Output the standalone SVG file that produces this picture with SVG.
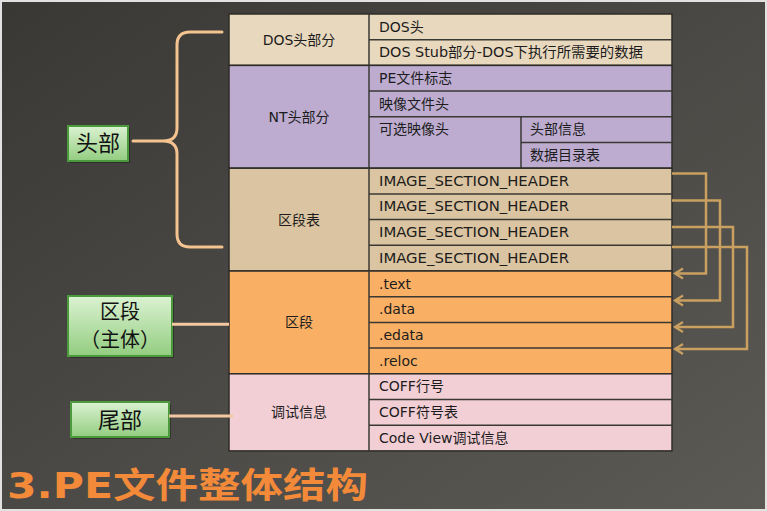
<svg xmlns="http://www.w3.org/2000/svg" width="767" height="511" viewBox="0 0 767 511">
<defs>
<linearGradient id="bg" x1="0" y1="0" x2="1" y2="1">
<stop offset="0" stop-color="#393835"/>
<stop offset="1" stop-color="#5b5a55"/>
</linearGradient>
<linearGradient id="green" x1="0" y1="0" x2="0" y2="1">
<stop offset="0" stop-color="#dbf2d2"/>
<stop offset="1" stop-color="#93cd80"/>
</linearGradient>
<marker id="arr" markerUnits="userSpaceOnUse" markerWidth="14" markerHeight="14" viewBox="-10 -7 14 14" refX="0" refY="0" orient="auto">
<path d="M-8,-5 L0,0 L-8,5" fill="none" stroke="#c9a060" stroke-width="2.2"/>
</marker>
<style>
.t{font-family:'DejaVu Sans','Noto Sans CJK SC',sans-serif;font-size:14px;fill:#1c1c1c}
.c{text-anchor:middle}
.sep{stroke:#3a3833;stroke-width:1.5;fill:none}
.blk{stroke:#2e2c29;stroke-width:1.5}
.gb{fill:url(#green);stroke:#4b9a3b;stroke-width:2}
.sh{fill:#000;opacity:0.3}
.gt{font-family:'Noto Sans CJK SC',sans-serif;font-size:22px;fill:#111;text-anchor:middle}
.gs{font-size:20px}
.brace{fill:none;stroke:#f4c38f;stroke-width:3;stroke-linecap:round}
.link{fill:none;stroke:#f4c8a0;stroke-width:3}
.arrow{fill:none;stroke:#c9a060;stroke-width:2.5;marker-end:url(#arr)}
</style>
</defs>
<rect x="0" y="0" width="767" height="511" fill="url(#bg)"/>
<rect x="1" y="1" width="765" height="509" fill="none" stroke="#e2e2e2" stroke-width="2"/>

<g id="dos-header">
<rect class="blk" x="229" y="14" width="443" height="51.4" fill="#e8d8be"/>
<line class="sep" x1="369" y1="14" x2="369" y2="65.4"/>
<line class="sep" x1="369" y1="39.7" x2="672" y2="39.7"/>
<text class="t c" x="299" y="44.7">DOS头部分</text>
<text class="t" x="379" y="31.5">DOS头</text>
<text class="t" x="379" y="57.2" textLength="264" lengthAdjust="spacingAndGlyphs">DOS Stub部分-DOS下执行所需要的数据</text>
</g>

<g id="nt-header">
<rect class="blk" x="229" y="65.4" width="443" height="102.8" fill="#bdacd0"/>
<line class="sep" x1="369" y1="65.4" x2="369" y2="168.2"/>
<line class="sep" x1="369" y1="91.1" x2="672" y2="91.1"/>
<line class="sep" x1="369" y1="116.8" x2="672" y2="116.8"/>
<line class="sep" x1="521" y1="116.8" x2="521" y2="168.2"/>
<line class="sep" x1="521" y1="142.5" x2="672" y2="142.5"/>
<text class="t c" x="299" y="121.5">NT头部分</text>
<text class="t" x="379" y="82.9">PE文件标志</text>
<text class="t" x="379" y="108.6">映像文件头</text>
<text class="t" x="379" y="134.3">可选映像头</text>
<text class="t" x="530" y="134.3">头部信息</text>
<text class="t" x="530" y="160">数据目录表</text>
</g>

<g id="section-table">
<rect class="blk" x="229" y="168.2" width="443" height="102.8" fill="#dbc4a1"/>
<line class="sep" x1="369" y1="168.2" x2="369" y2="271"/>
<line class="sep" x1="369" y1="193.9" x2="672" y2="193.9"/>
<line class="sep" x1="369" y1="219.6" x2="672" y2="219.6"/>
<line class="sep" x1="369" y1="245.3" x2="672" y2="245.3"/>
<text class="t c" x="299" y="224.6">区段表</text>
<text class="t" x="379" y="185.7" textLength="190" lengthAdjust="spacingAndGlyphs">IMAGE_SECTION_HEADER</text>
<text class="t" x="379" y="211.4" textLength="190" lengthAdjust="spacingAndGlyphs">IMAGE_SECTION_HEADER</text>
<text class="t" x="379" y="237.1" textLength="190" lengthAdjust="spacingAndGlyphs">IMAGE_SECTION_HEADER</text>
<text class="t" x="379" y="262.8" textLength="190" lengthAdjust="spacingAndGlyphs">IMAGE_SECTION_HEADER</text>
</g>

<g id="sections">
<rect class="blk" x="229" y="271" width="443" height="102.8" fill="#f9b065"/>
<line class="sep" x1="369" y1="271" x2="369" y2="373.8"/>
<line class="sep" x1="369" y1="296.7" x2="672" y2="296.7"/>
<line class="sep" x1="369" y1="322.4" x2="672" y2="322.4"/>
<line class="sep" x1="369" y1="348.1" x2="672" y2="348.1"/>
<text class="t c" x="299" y="327.4">区段</text>
<text class="t" x="379" y="288.5">.text</text>
<text class="t" x="379" y="314.2">.data</text>
<text class="t" x="379" y="339.9">.edata</text>
<text class="t" x="379" y="365.6">.reloc</text>
</g>

<g id="debug-info">
<rect class="blk" x="229" y="373.8" width="443" height="77.1" fill="#f2ced5"/>
<line class="sep" x1="369" y1="373.8" x2="369" y2="450.9"/>
<line class="sep" x1="369" y1="399.5" x2="672" y2="399.5"/>
<line class="sep" x1="369" y1="425.2" x2="672" y2="425.2"/>
<text class="t c" x="299" y="417.4">调试信息</text>
<text class="t" x="379" y="391.3">COFF行号</text>
<text class="t" x="379" y="417">COFF符号表</text>
<text class="t" x="379" y="442.7">Code View调试信息</text>
</g>

<g id="label-header">
<rect class="sh" x="70" y="128" width="60" height="35"/>
<rect class="gb" x="68" y="126" width="60" height="35"/>
<text class="gt" x="98" y="151">头部</text>
</g>

<g id="label-body">
<rect class="sh" x="70" y="298" width="104" height="60"/>
<rect class="gb" x="68" y="296" width="104" height="60"/>
<text class="gt gs" x="120" y="318.5">区段</text>
<text class="gt gs" x="120" y="346.5">（主体）</text>
</g>

<g id="label-tail">
<rect class="sh" x="73" y="404" width="98" height="35"/>
<rect class="gb" x="71" y="402" width="98" height="35"/>
<text class="gt" x="120" y="427.5">尾部</text>
</g>

<g id="connectors">
<path class="brace" d="M222,32 L190,32 Q177,32 177,45 L177,128 Q177,141 163,141 L133,141 M163,141 Q177,141 177,154 L177,234 Q177,247 190,247 L222,247"/>
<line class="link" x1="172" y1="324.3" x2="229" y2="324.3"/>
<line class="link" x1="169" y1="416" x2="233" y2="416"/>
<path class="arrow" d="M672,173.5 H706 V273.5 H675"/>
<path class="arrow" d="M672,200.5 H720 V300.5 H675"/>
<path class="arrow" d="M672,227 H733 V327 H675"/>
<path class="arrow" d="M672,247 H747 V349 H675"/>
</g>

<text x="7" y="498" textLength="361" lengthAdjust="spacingAndGlyphs" font-family="'DejaVu Sans','Noto Sans CJK SC',sans-serif" font-size="35" font-weight="bold" fill="#f28a3a">3.PE文件整体结构</text>
</svg>
